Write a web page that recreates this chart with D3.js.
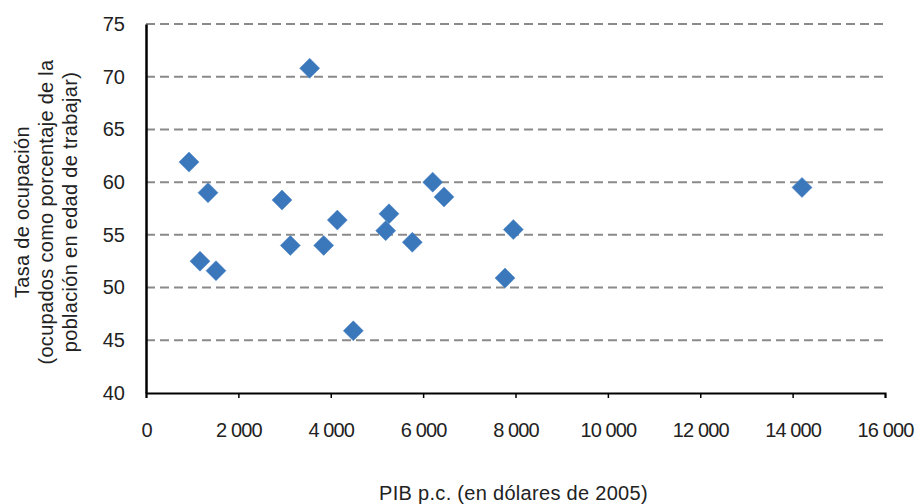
<!DOCTYPE html>
<html lang="es">
<head>
<meta charset="UTF-8">
<title>Tasa de ocupación vs PIB p.c.</title>
<script src="https://cdn.jsdelivr.net/npm/d3@7"></script>
<style>
  * { margin: 0; padding: 0; }
  body { background: #fff; }
  text { font-family: "Liberation Sans", Arial, sans-serif; fill: #222; }
</style>
</head>
<body>
<script>
// PIB p.c. (dólares de 2005) y tasa de ocupación
const pib = [931, 1169, 1342, 1515, 2944, 3125, 3544, 3847, 4142, 4489, 5189, 5261, 5766, 6207, 6452, 7773, 7953, 14203]
const ocupacion = [61.9, 52.5, 59.0, 51.6, 58.3, 54.0, 70.8, 54.0, 56.4, 45.9, 55.4, 57.0, 54.3, 60.0, 58.6, 50.9, 55.5, 59.5]
const xTicks = [0, 2000, 4000, 6000, 8000, 10000, 12000, 14000, 16000]
const yTicks = [40, 45, 50, 55, 60, 65, 70, 75]
const yTitle = ['Tasa de ocupación', '(ocupados como porcentaje de la', 'población en edad de trabajar)']
const xTitle = 'PIB p.c. (en dólares de 2005)'

const width = 919
const height = 504
const margin = { left: 146, right: 34, top: 24, bottom: 111 }

const svg = d3.select('body').append('svg')
  .attr('width', width)
  .attr('height', height)

const x = d3.scaleLinear().domain([0, 16000]).range([margin.left, width - margin.right])
const y = d3.scaleLinear().domain([40, 75]).range([height - margin.bottom, margin.top])

const fmt = d => d === 0 ? '0' : d3.format(',')(d).replace(',', ' ')

// gridlines
svg.append('g')
  .selectAll('line')
  .data(yTicks.filter(d => d > 40))
  .enter().append('line')
  .attr('x1', x(0)).attr('x2', x(16000))
  .attr('y1', d => y(d)).attr('y2', d => y(d))
  .attr('stroke', '#8a8a8a')
  .attr('stroke-width', 2)
  .attr('stroke-dasharray', '9,5')

// x axis
const xAxis = d3.axisBottom(x).tickValues(xTicks).tickSize(5).tickPadding(25).tickFormat(fmt)
const gx = svg.append('g')
  .attr('transform', 'translate(0,' + y(40) + ')')
  .call(xAxis)
gx.select('.domain').attr('stroke', '#000').attr('stroke-width', 2)
gx.selectAll('.tick line').attr('stroke', '#000').attr('stroke-width', 1.5)
gx.selectAll('.tick text')
  .attr('font-size', 20)
  .attr('letter-spacing', '-0.9px')
  .attr('fill', '#222')

// y axis
const yAxis = d3.axisLeft(y).tickValues(yTicks).tickSize(0).tickPadding(21)
const gy = svg.append('g')
  .attr('transform', 'translate(' + x(0) + ',0)')
  .call(yAxis)
gy.select('.domain').attr('stroke', '#000').attr('stroke-width', 2.5)
gy.selectAll('.tick text')
  .attr('font-size', 20)
  .attr('fill', '#222')

// puntos (rombos)
svg.append('g')
  .selectAll('path')
  .data(pib)
  .enter().append('path')
  .attr('d', d3.symbol().type(d3.symbolSquare).size(200))
  .attr('transform', (d, i) => 'translate(' + x(d) + ',' + y(ocupacion[i]) + ') rotate(45)')
  .attr('fill', '#3b77bb')
  .attr('stroke', '#4a84c4')
  .attr('stroke-width', 0.5)

// títulos
svg.append('text')
  .attr('x', x(8000) - 2)
  .attr('y', 500)
  .attr('text-anchor', 'middle')
  .attr('font-size', 20)
  .attr('letter-spacing', '0.3px')
  .text(xTitle)

const yt = svg.append('text')
  .attr('transform', 'translate(29,' + 212 + ') rotate(-90)')
  .attr('text-anchor', 'middle')
  .attr('font-size', 20)
  .attr('letter-spacing', '0.3px')
yt.selectAll('tspan')
  .data(yTitle)
  .enter().append('tspan')
  .attr('x', 0)
  .attr('dy', (d, i) => i === 0 ? 0 : 24)
  .text(d => d)
</script>
</body>
</html>
